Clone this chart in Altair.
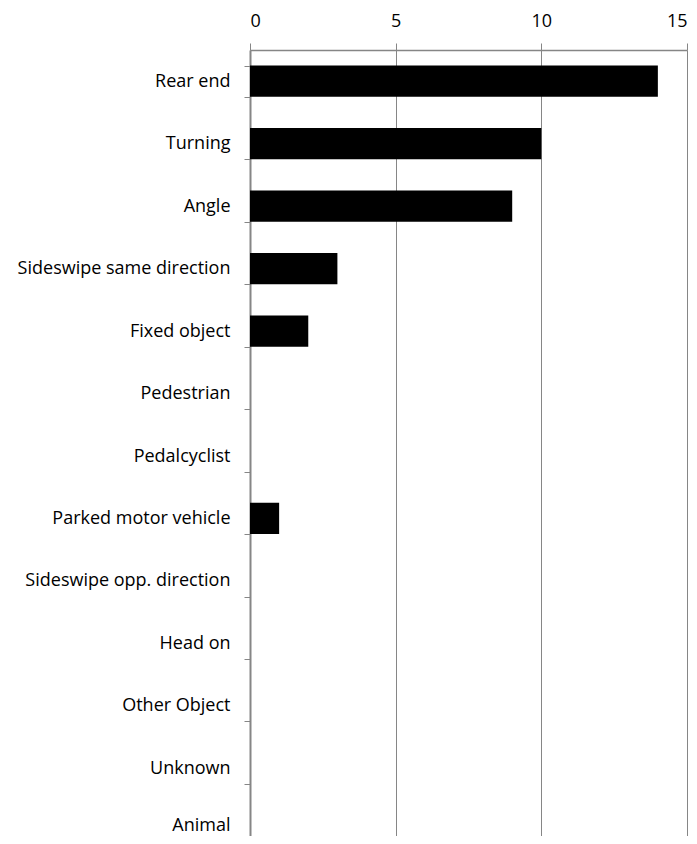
import altair as alt
import pandas as pd

categories = ["Rear end", "Turning", "Angle", "Sideswipe same direction", "Fixed object",
              "Pedestrian", "Pedalcyclist", "Parked motor vehicle", "Sideswipe opp. direction",
              "Head on", "Other Object", "Unknown", "Animal"]
values = [14, 10, 9, 3, 2, 0, 0, 1, 0, 0, 0, 0, 0]
x_ticks = [0, 5, 10, 15]

df = pd.DataFrame({"category": categories, "value": values})

FONT = "Open Sans"
GRAY = "#868686"

chart = alt.Chart(df).mark_bar(color="black").encode(
    x=alt.X("value:Q", scale=alt.Scale(domain=[0, 15], nice=False),
            axis=alt.Axis(orient="top", values=x_ticks, title=None, grid=True,
                          gridColor=GRAY, domainColor=GRAY, tickColor=GRAY,
                          tickSize=7, labelPadding=13, labelFontSize=18, labelFont=FONT,
                          labelColor="black", domainWidth=1.5)),
    y=alt.Y("category:N", sort=categories,
            scale=alt.Scale(paddingInner=0.5, paddingOuter=0.25, range=[0, 812]),
            axis=alt.Axis(title=None, tickBand="extent", tickColor=GRAY, domainColor=GRAY,
                          tickSize=6, labelPadding=14, labelFontSize=18, labelFont=FONT,
                          labelColor="black", domainWidth=2, labelLimit=300,
                          labelOffset={"condition": {"test": "datum.value === 'Animal'", "value": -5},
                                       "value": 0})),
).properties(
    width=437, height=786,
    autosize=alt.AutoSizeParams(type="none"),
    padding={"left": 242, "top": 42, "right": 1, "bottom": 0},
).configure_view(stroke=None)

chart.save("out.html", embed_options={"renderer": "svg", "actions": False})
